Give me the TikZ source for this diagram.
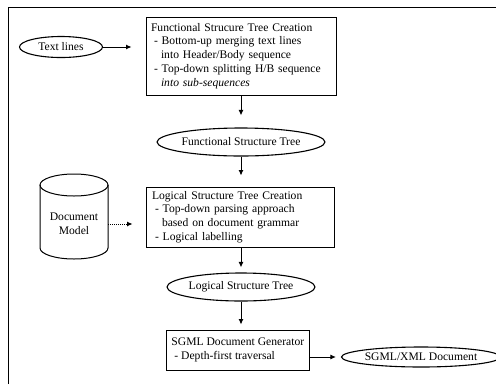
\documentclass[tikz,border=0pt]{standalone}
\usepackage{fontspec}
\setmainfont{Liberation Serif}
\usetikzlibrary{arrows.meta,shapes.geometric}
\begin{document}
\begin{tikzpicture}[x=1pt,y=-1pt,
  every node/.style={font=\fontsize{11.6}{13.8}\selectfont},
  procbox/.style={draw,line width=0.9pt,rectangle,inner sep=0pt,align=left},
  oval/.style={draw,line width=1.1pt,ellipse,inner sep=0pt},
  arr/.style={line width=1pt,-{Latex[length=5.5pt,width=5pt]}},
  ln/.style={line width=1pt}]
\useasboundingbox (0,0) rectangle (496,384);
% frame
\draw[ln] (8,384) -- (8,7) -- (496,7);
% text lines
\node[oval,minimum width=83pt,minimum height=21pt] (tl) at (61,47) {Text lines};
% functional box
\node[procbox,minimum width=190pt,minimum height=78pt,text width=180pt] (fb) at (241,56)
 {Functional Strucure Tree Creation\\
  \hspace*{3pt}- Bottom-up merging text lines\\
  \hspace*{10pt}into Header/Body sequence\\
  \hspace*{3pt}- Top-down splitting H/B sequence\\
  \hspace*{10pt}\textit{into sub-sequences}};
% FST ellipse
\node[oval,minimum width=150pt,minimum height=28pt] (fst) at (241,142) {Functional Structure Tree};
% cylinder
\draw[ln] (74,185) ellipse [x radius=34pt, y radius=11pt];
\draw[ln] (40,185) -- (40,248) arc[start angle=180, end angle=360, x radius=34pt, y radius=11pt] -- (108,185);
\node[minimum width=68pt,inner sep=0pt,align=center] (dm) at (74,224) {Document\\Model};
% logical box
\node[procbox,minimum width=188pt,minimum height=60pt,text width=176pt] (lb) at (240,217)
 {Logical Structure Tree Creation\\
  \hspace*{3pt}- Top-down parsing approach\\
  \hspace*{10pt}based on document grammar\\
  \hspace*{3pt}- Logical labelling};
% LST ellipse
\node[oval,minimum width=136pt,minimum height=28pt] (lst) at (241,287) {Logical Structure Tree};
% SGML box
\node[procbox,inner xsep=5pt,minimum height=40pt,anchor=west] (sg) at (166,350)
 {SGML Document Generator\\
  \hspace*{3pt}- Depth-first traversal};
% XML ellipse
\node[oval,minimum width=134pt,minimum height=20pt] (xml) at (421,357) {SGML/XML Document};
% connectors
\draw[arr,shorten >=14pt] (tl.east) -- (fb.west |- tl.east);
\draw[arr,shorten >=12pt] (fb.south -| fst.north) -- (fst.north);
\draw[arr,shorten >=11pt] (fst.south) -- (fst.south |- lb.north);
\draw[arr,densely dotted,shorten >=13pt] (dm.east) -- (lb.west |- dm.east);
\draw[arr,shorten >=5pt] (lb.south -| lst.north) -- (lst.north);
\draw[arr,shorten >=5pt] (lst.south) -- (lst.south |- sg.north);
\draw[arr,shorten >=5pt] (sg.east |- xml.west) -- (xml.west);
\end{tikzpicture}
\end{document}
